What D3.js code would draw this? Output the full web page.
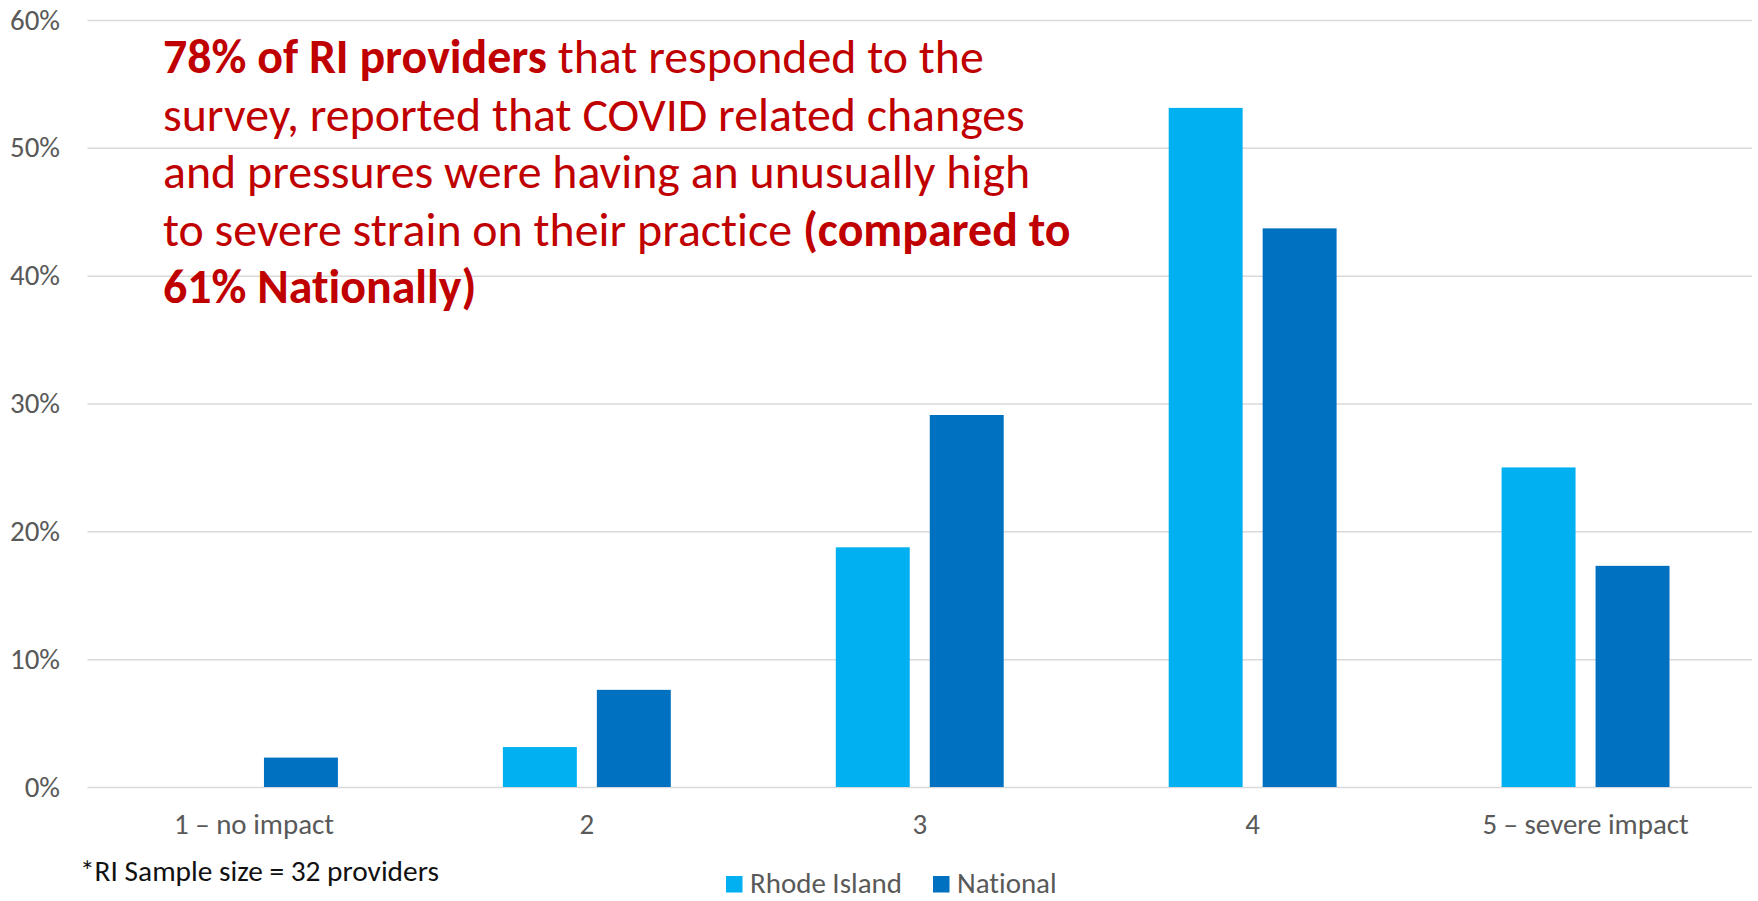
<!DOCTYPE html>
<html>
<head>
<meta charset="utf-8">
<script src="https://cdn.jsdelivr.net/npm/d3@7"></script>
<style>
  html, body { margin: 0; padding: 0; background: #ffffff; }
  svg { display: block; }
  text, tspan {
    font-family: Carlito, Calibri, Lato, "Open Sans", sans-serif;
    font-variant-ligatures: none;
    font-feature-settings: "liga" 0, "dlig" 0, "clig" 0;
  }
</style>
</head>
<body>
<svg id="chart" width="1758" height="901"></svg>
<script>
// ---------- data ----------
const categories = ["1 – no impact", "2", "3", "4", "5 – severe impact"];
const seriesNames = ["Rhode Island", "National"];
const rhodeIsland = [0, 3.125, 18.75, 53.125, 25];
const national = [2.3, 7.6, 29.1, 43.7, 17.3];
const yTicks = [0, 10, 20, 30, 40, 50, 60];
const footnote = "*RI Sample size = 32 providers";
const annotationLines = [
  [["78% of RI providers", true], [" that responded to the", false]],
  [["survey, reported that COVID related changes", false]],
  [["and pressures were having an unusually high", false]],
  [["to severe strain on their practice ", false], ["(compared to", true]],
  [["61% Nationally)", true]]
];

// ---------- layout / style ----------
const W = 1758, H = 901;
const plot = { left: 87.5, right: 1752, top: 20, bottom: 787 };
const colors = { "Rhode Island": "#00B0F0", "National": "#0070C0" };
const axisGrey = "#595959";
const gridGrey = "#D9D9D9";
const red = "#C00000";

const svg = d3.select("#chart");

const x0 = d3.scaleBand().domain(categories).range([plot.left, plot.right]).padding(0);
const x1 = d3.scaleBand().domain(seriesNames).range([0, x0.bandwidth()])
  .paddingInner(0.213).paddingOuter(0.878);
const y = d3.scaleLinear().domain([0, 60]).range([plot.bottom, plot.top]);

// helper: fit a font size so that text matches a target width
function fitSize(str, target, weight) {
  const t = svg.append("text").attr("font-size", 100).attr("font-weight", weight || "normal").text(str);
  const w = t.node().getComputedTextLength();
  t.remove();
  return 100 * target / w;
}

// gridlines via axis
const yAxis = d3.axisLeft(y).tickValues(yTicks).tickSize(-(plot.right - plot.left)).tickFormat(d => d + "%");
const gAxis = svg.append("g").attr("transform", `translate(${plot.left},0)`).call(yAxis);
gAxis.select(".domain").remove();
gAxis.selectAll(".tick line").attr("stroke", gridGrey).attr("stroke-width", 1.5);

const axisFont = fitSize("1 – no impact", 160);
gAxis.selectAll(".tick text")
  .attr("x", 60 - plot.left)
  .attr("dy", null)
  .attr("y", 9)
  .attr("text-anchor", "end")
  .attr("fill", axisGrey)
  .attr("font-size", axisFont)
  .style("font-family", "Carlito, Calibri, Lato, 'Open Sans', sans-serif");

// bars
const rows = categories.map((c, i) => ({ cat: c, values: [
  { key: "Rhode Island", value: rhodeIsland[i] },
  { key: "National", value: national[i] }
]}));

const groups = svg.append("g").selectAll("g").data(rows).join("g")
  .attr("transform", d => `translate(${x0(d.cat)},0)`);
groups.selectAll("rect").data(d => d.values).join("rect")
  .attr("x", d => x1(d.key))
  .attr("width", x1.bandwidth())
  .attr("y", d => y(d.value))
  .attr("height", d => y(0) - y(d.value))
  .attr("fill", d => colors[d.key]);

// x-axis labels
const xAxis = d3.axisBottom(x0).tickSize(0).tickPadding(0);
const gx = svg.append("g").attr("transform", `translate(0,${plot.bottom})`).call(xAxis);
gx.select(".domain").remove();
gx.selectAll(".tick text")
  .attr("y", 47)
  .attr("dy", null)
  .attr("fill", axisGrey)
  .attr("font-size", axisFont)
  .style("font-family", "Carlito, Calibri, Lato, 'Open Sans', sans-serif");

// footnote
svg.append("text")
  .attr("x", 80).attr("y", 881)
  .attr("fill", "#111111")
  .attr("font-size", fitSize(footnote, 359))
  .text(footnote);

// legend
const legendX = [726, 933];
const legend = svg.append("g");
seriesNames.forEach((s, i) => {
  legend.append("rect").attr("x", legendX[i]).attr("y", 876).attr("width", 16.5).attr("height", 16.5).attr("fill", colors[s]);
  legend.append("text").attr("x", legendX[i] + 24).attr("y", 892.5)
    .attr("fill", axisGrey).attr("font-size", fitSize("Rhode Island", 152)).text(s);
});

// annotation
const annTargets = [821, 864, 868, 908, 311];
const baselines = [73, 130.5, 188, 245.5, 303];
let measured = 0, targetSum = 0;
annotationLines.forEach((parts, i) => {
  const t = svg.append("text").attr("font-size", 100);
  parts.forEach(([str, bold]) => t.append("tspan").attr("font-weight", bold ? "bold" : "normal").text(str));
  measured += t.node().getComputedTextLength();
  targetSum += annTargets[i];
  t.remove();
});
const annSize = 100 * targetSum / measured;
const ann = svg.append("g");
annotationLines.forEach((parts, i) => {
  const t = ann.append("text").attr("x", 163).attr("y", baselines[i])
    .attr("fill", red).attr("font-size", annSize).attr("xml:space", "preserve");
  parts.forEach(([str, bold]) => t.append("tspan").attr("font-weight", bold ? "bold" : "normal").text(str));
});
</script>
</body>
</html>
